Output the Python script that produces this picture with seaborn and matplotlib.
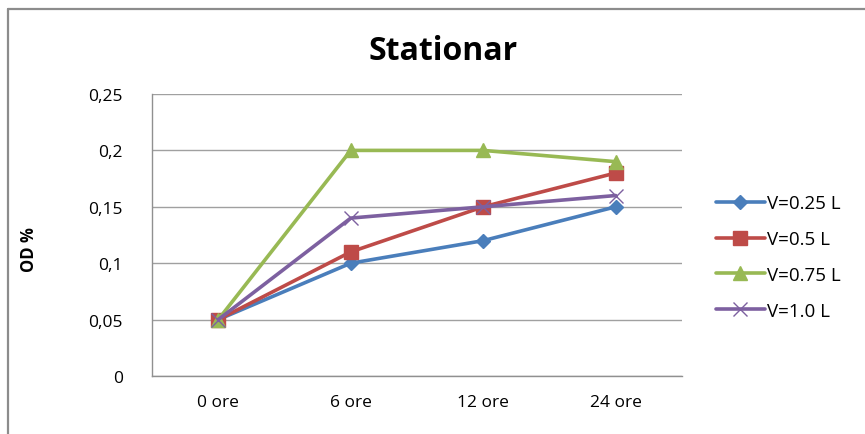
import matplotlib
matplotlib.use("Agg")
import matplotlib.pyplot as plt
import seaborn as sns
import pandas as pd
from matplotlib.lines import Line2D
from matplotlib.ticker import FuncFormatter

categories = ["0 ore", "6 ore", "12 ore", "24 ore"]
series_names = ["V=0.25 L", "V=0.5 L", "V=0.75 L", "V=1.0 L"]
v025 = [0.05, 0.10, 0.12, 0.15]
v05 = [0.05, 0.11, 0.15, 0.18]
v075 = [0.05, 0.20, 0.20, 0.19]
v10 = [0.05, 0.14, 0.15, 0.16]
yticks = [0, 0.05, 0.10, 0.15, 0.20, 0.25]

colors = ["#4A7EBB", "#BE4B48", "#98B954", "#7D60A0"]
markers = ["D", "s", "^", "x"]
msizes = [7.5, 9.5, 9.5, 10]

sns.set_theme(style="white")
plt.rcParams['font.family'] = ['Open Sans', 'DejaVu Sans']
plt.rcParams['text.color'] = 'black'

fig = plt.figure(figsize=(8.65, 4.35), dpi=100)
ax = fig.add_axes([152/865, 1 - 377/435, 530/865, (377-95)/435])

all_vals = [v025, v05, v075, v10]
for name, vals, c, m, ms in zip(series_names, all_vals, colors, markers, msizes):
    df = pd.DataFrame({"cat": categories, "val": vals})
    sns.lineplot(data=df, x="cat", y="val", ax=ax, color=c, marker=m,
                 markersize=ms, linewidth=2.6, markeredgecolor=c,
                 markeredgewidth=1.0, label=name, sort=False)

ax.set_xlim(-0.5, 3.5)
ax.set_ylim(0, 0.25)
ax.set_yticks(yticks)
ax.yaxis.set_major_formatter(FuncFormatter(lambda v, p: ("%g" % round(v, 2)).replace(".", ",")))
ax.grid(axis="y", color="#A0A0A0", linewidth=1.0)
ax.set_axisbelow(True)
for s in ["top", "right"]:
    ax.spines[s].set_visible(False)
for s in ["left", "bottom"]:
    ax.spines[s].set_color("#909090")
    ax.spines[s].set_linewidth(1.0)
ax.tick_params(axis="both", labelsize=12.5, colors="#000000", length=0)
ax.tick_params(axis="y", pad=21)
ax.tick_params(axis="x", pad=13)
ax.set_xlabel("")
ax.set_ylabel("OD %", fontsize=12, fontweight="bold", color="black")
ax.yaxis.set_label_coords((38 - 152) / 530, (377 - 250) / 282)

fig.text(443/865, 1 - 51/435, "Stationar", ha="center", va="center",
         fontsize=23, fontweight="bold", color="black")

handles = [Line2D([0], [0], color=c, marker=m, markersize=ms, linewidth=2.6,
                  markeredgecolor=c, markeredgewidth=1.0)
           for c, m, ms in zip(colors, markers, msizes)]
ax.legend(handles, series_names, loc="center left", bbox_to_anchor=(716/865, 1 - 258/435),
          bbox_transform=fig.transFigure, frameon=False, fontsize=13.5,
          handlelength=2.6, handletextpad=0.1, labelspacing=0.95, borderaxespad=0,
          borderpad=0)

# outer chart frame
fig.add_artist(Line2D([8/865, 8/865], [0, 1 - 10/435], transform=fig.transFigure,
                      color="#8C8C8C", linewidth=1.6))
fig.add_artist(Line2D([8/865, 1], [1 - 10/435, 1 - 10/435], transform=fig.transFigure,
                      color="#8C8C8C", linewidth=1.6))

fig.savefig("out.png", dpi=100)
